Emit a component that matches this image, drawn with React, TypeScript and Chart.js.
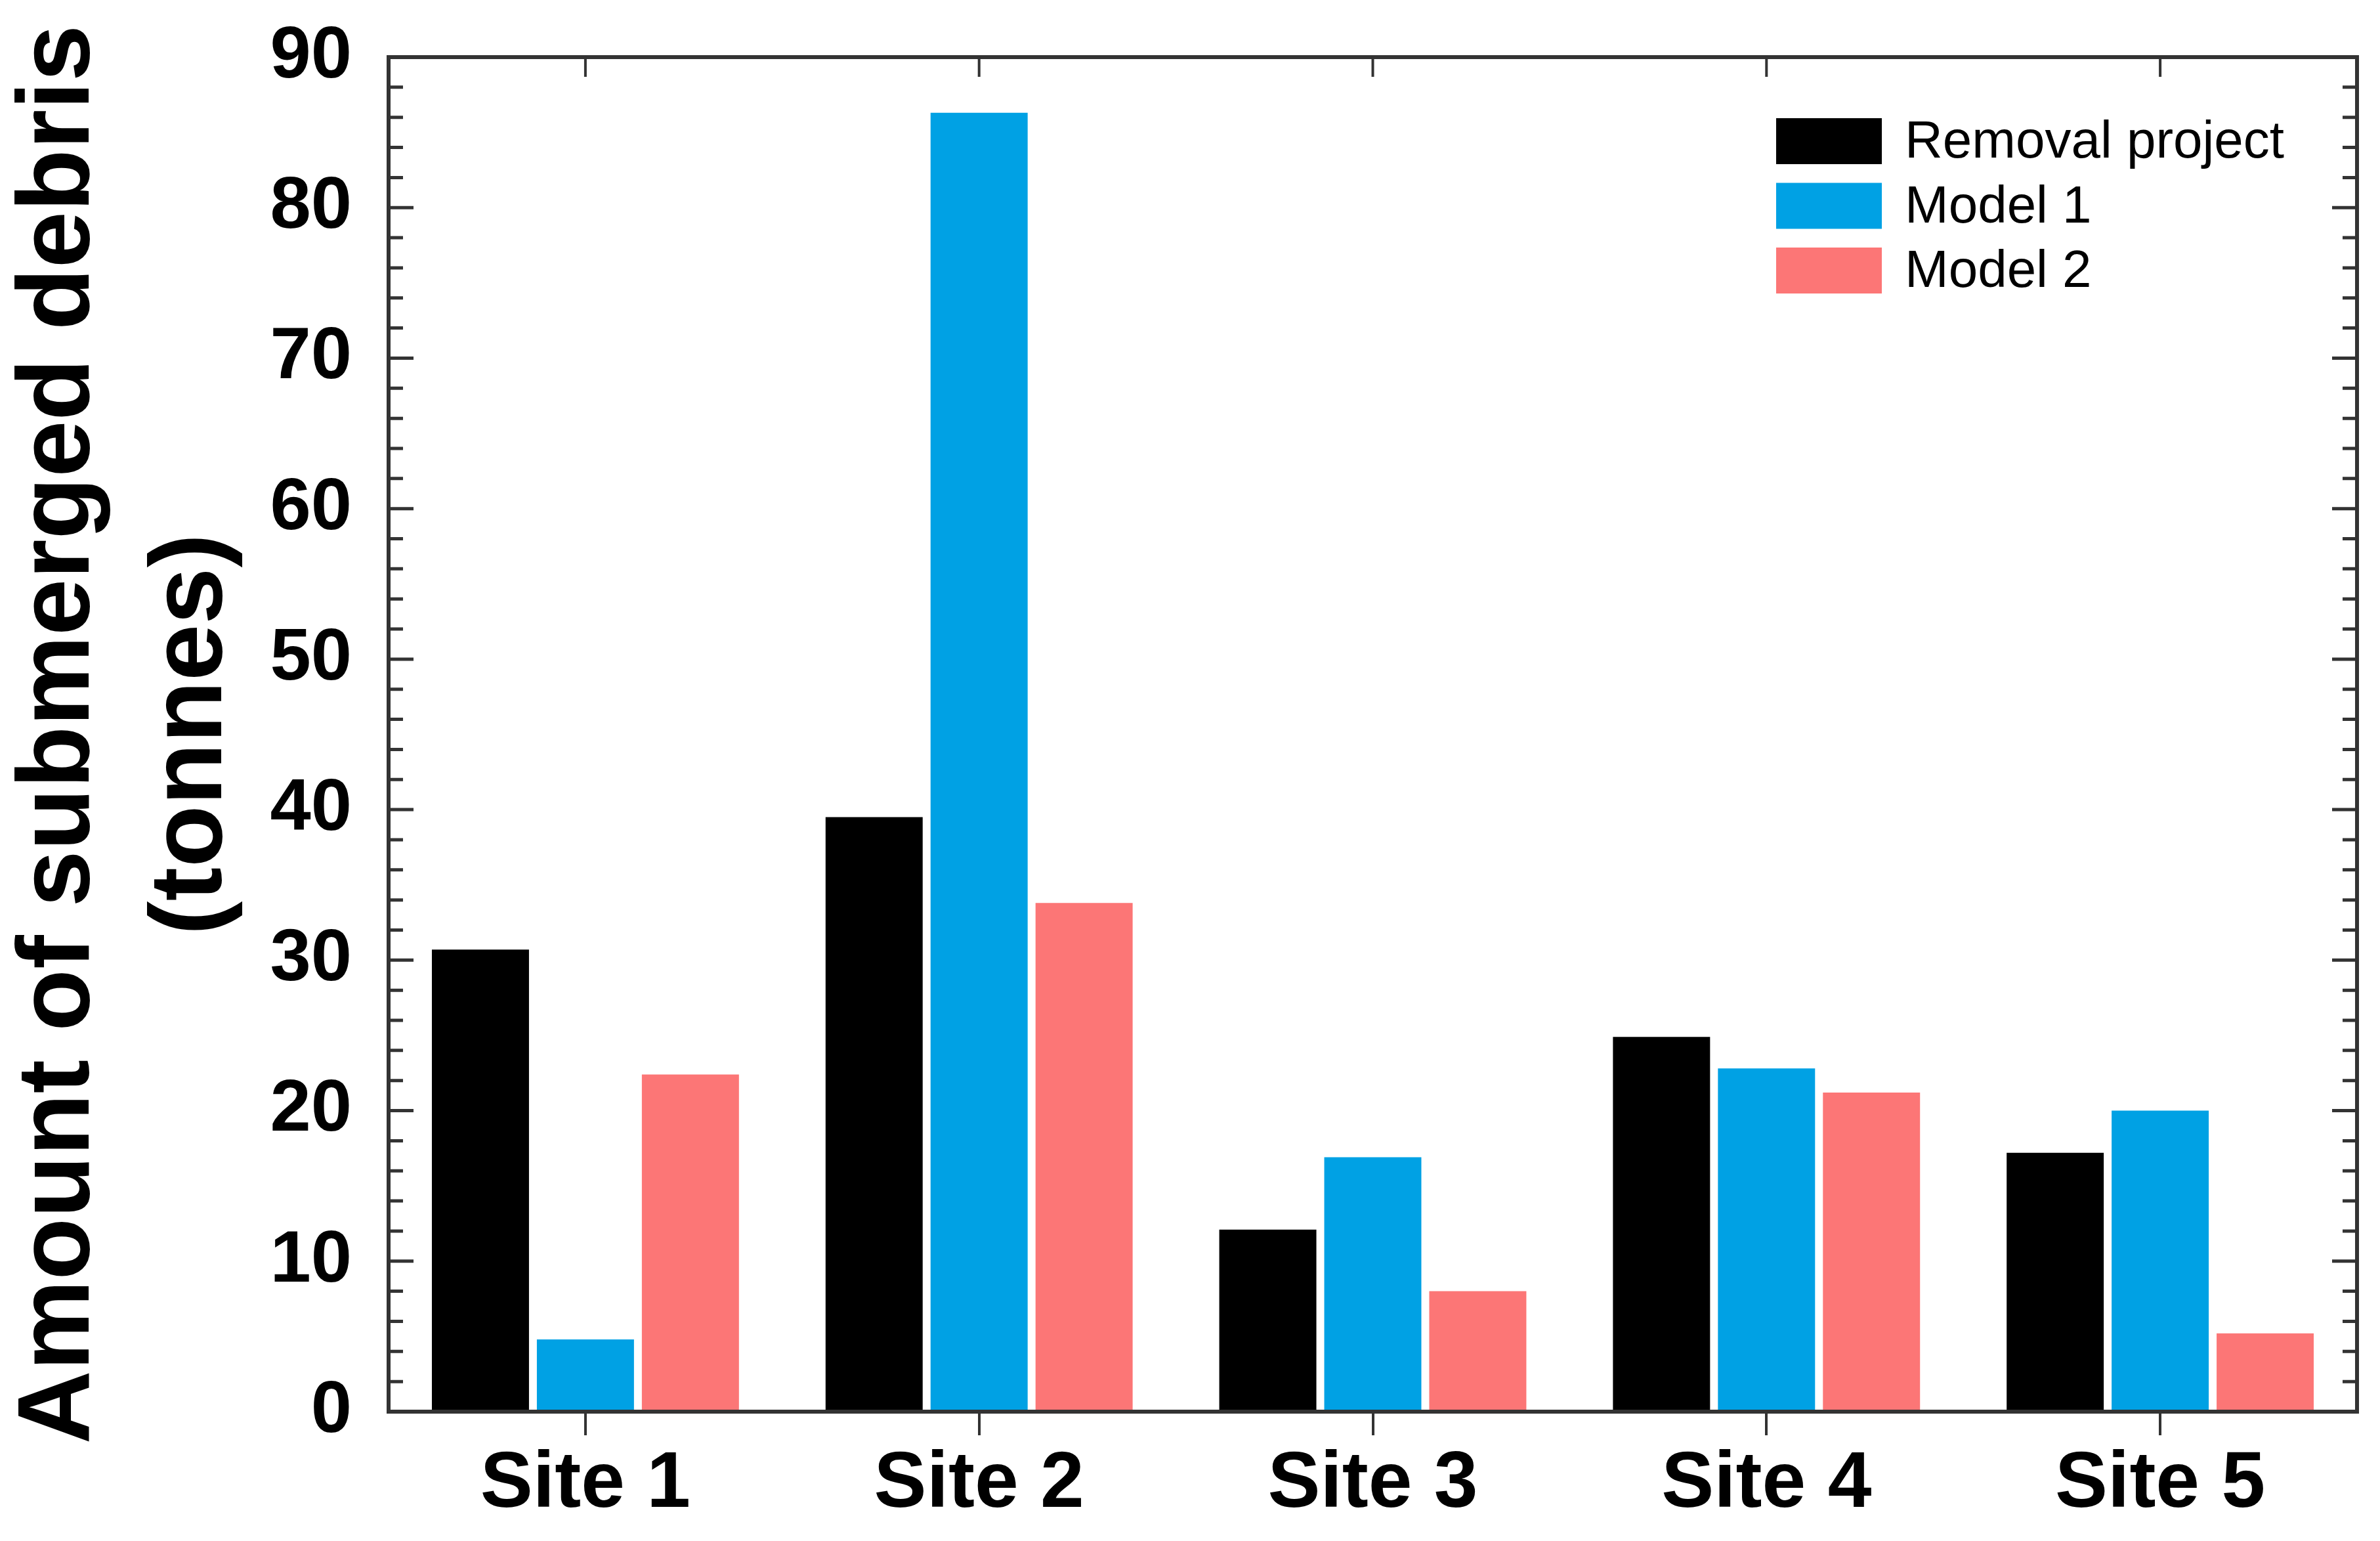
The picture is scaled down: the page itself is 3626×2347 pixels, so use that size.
import { useEffect, useRef } from 'react';
import { Chart, registerables, Plugin } from 'chart.js';

Chart.register(...registerables);

// data
const sites = ['Site 1', 'Site 2', 'Site 3', 'Site 4', 'Site 5'];
const seriesNames = ['Removal project', 'Model 1', 'Model 2'];
const removalProject = [30.7, 39.5, 12.1, 24.9, 17.2];
const model1 = [4.8, 86.3, 16.9, 22.8, 20.0];
const model2 = [22.4, 33.8, 8.0, 21.2, 5.2];
const seriesColors = ['#000000', '#00A1E4', '#FC7676'];
const yMin = 0;
const yMax = 90;
const yStep = 10;
const yMinorStep = 2;

const FONT = '"Liberation Sans", Arial, Helvetica, sans-serif';
const AXIS_COLOR = '#333333';

// frame + inward ticks (left/right minor+major, top at categories) + in-plot legend
const framePlugin: Plugin<'bar'> = {
	id: 'frame',
	afterDraw(chart) {
		const { ctx, chartArea: a, scales } = chart;
		const x = scales.x;
		const y = scales.y;
		ctx.save();
		ctx.strokeStyle = AXIS_COLOR;
		ctx.lineWidth = 6;
		ctx.strokeRect(a.left, a.top, a.right - a.left, a.bottom - a.top);

		ctx.lineWidth = 5;
		for (let v = yMin; v <= yMax; v += yMinorStep) {
			const py = y.getPixelForValue(v);
			const len = v % yStep === 0 ? 38 : 22;
			ctx.beginPath();
			ctx.moveTo(a.left, py);
			ctx.lineTo(a.left + len, py);
			ctx.moveTo(a.right, py);
			ctx.lineTo(a.right - len, py);
			ctx.stroke();
		}
		ctx.lineWidth = 4;
		sites.forEach((_, i) => {
			const px = x.getPixelForValue(i);
			ctx.beginPath();
			ctx.moveTo(px, a.top);
			ctx.lineTo(px, a.top + 30);
			ctx.stroke();
		});

		// legend
		const boxW = 161;
		const boxH = 70;
		const left = a.right - 885;
		let top = a.top + 93;
		ctx.font = `80px ${FONT}`;
		ctx.textBaseline = 'middle';
		ctx.textAlign = 'left';
		chart.data.datasets.forEach((ds) => {
			ctx.fillStyle = ds.backgroundColor as string;
			ctx.fillRect(left, top, boxW, boxH);
			ctx.fillStyle = '#000';
			ctx.fillText(ds.label || '', left + boxW + 35, top + boxH / 2 + 3);
			top += 98.5;
		});
		ctx.restore();
	},
};

const App = () => {
	const canvasRef = useRef<HTMLCanvasElement | null>(null);

	useEffect(() => {
		if (!canvasRef.current) return;
		const values = [removalProject, model1, model2];
		const chart = new Chart(canvasRef.current, {
			type: 'bar',
			data: {
				labels: sites,
				datasets: seriesNames.map((name, i) => ({
					label: name,
					data: values[i],
					backgroundColor: seriesColors[i],
					borderWidth: 0,
					categoryPercentage: 0.8,
					barPercentage: 0.925,
				})),
			},
			options: {
				animation: false,
				responsive: true,
				maintainAspectRatio: false,
				layout: { padding: { top: 87, right: 35, left: 0, bottom: 0 } },
				plugins: {
					legend: { display: false },
					tooltip: { enabled: false },
				},
				scales: {
					x: {
						grid: {
							display: true,
							drawOnChartArea: false,
							drawTicks: true,
							tickLength: 36,
							offset: false,
							color: AXIS_COLOR,
							lineWidth: 4,
						},
						border: { display: false },
						ticks: {
							color: '#000',
							padding: 4,
							font: { family: FONT, size: 120, weight: 'bold' },
						},
						afterFit: (scale) => {
							scale.height = 197;
						},
					},
					y: {
						min: yMin,
						max: yMax,
						grid: { display: false, drawTicks: false },
						border: { display: false },
						ticks: {
							stepSize: yStep,
							color: '#000',
							padding: 56,
							font: { family: FONT, size: 112, weight: 'bold' },
						},
						title: {
							display: true,
							text: ['Amount of submerged debris', '(tonnes)'],
							color: '#000',
							padding: { top: -8, bottom: 0 },
							font: { family: FONT, size: 155, weight: 'bold', lineHeight: 1.3 },
						},
						afterFit: (scale) => {
							scale.width = 592;
							scale.paddingTop = 0;
							scale.paddingBottom = 0;
						},
					},
				},
			},
			plugins: [framePlugin],
		});
		return () => chart.destroy();
	}, []);

	return (
		<div style={{ position: 'absolute', left: 0, top: 0, width: 3626, height: 2347, background: '#fff' }}>
			<canvas ref={canvasRef}></canvas>
		</div>
	);
};

export default App;
